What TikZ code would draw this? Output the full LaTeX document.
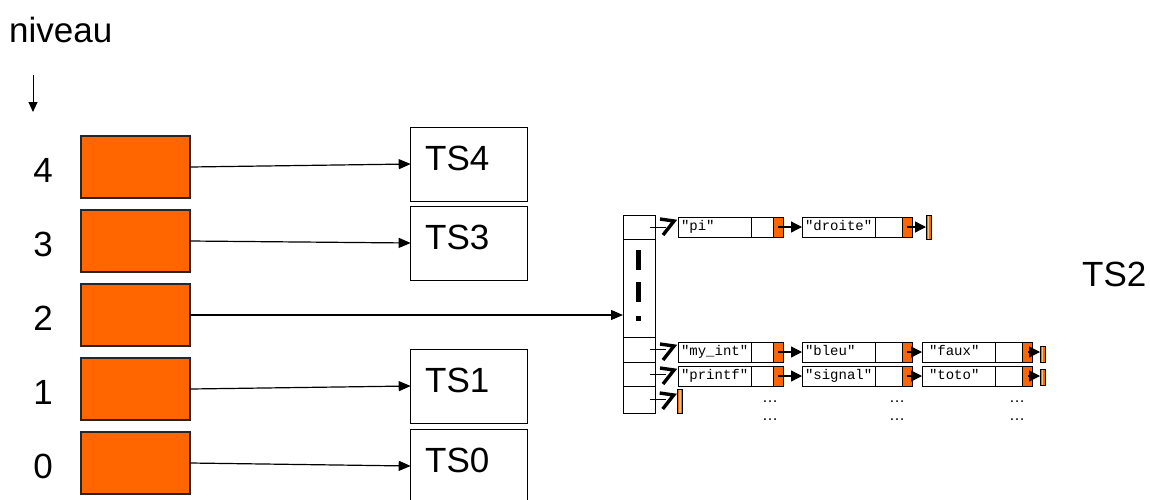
\documentclass[tikz,border=0pt]{standalone}
\usepackage{fontspec}
\setmainfont{Liberation Sans}
\setmonofont{Liberation Mono}
\usetikzlibrary{arrows.meta,calc}
\definecolor{orng}{HTML}{FF6600}
\definecolor{orlt}{HTML}{FFC080}
\newcommand\chevto[2]{%
  \draw[tail] ($(#1.center)+(11,0)$) -- ($(#1.center -| #2.west)+(-12,0)$);
  \draw[chev] ($(#2.west)+(-18,-8)$) -- ($(#2.west)+(-4,-6)$) -- ($(#2.west)+(-15,8)$);
}
\begin{document}
\begin{tikzpicture}[x=1pt,y=-1pt,
  big/.style={font=\fontsize{35}{42}\selectfont, inner sep=0pt},
  lvl/.style={draw=black!85, line width=1.1pt, fill=orng, minimum width=109pt, minimum height=62pt, inner sep=0pt, outer sep=0pt, anchor=north west},
  tsbox/.style={draw, line width=1pt, minimum width=117pt, minimum height=74pt, inner sep=0pt, outer sep=0pt, anchor=north west},
  arr/.style={line width=1.2pt, -{Triangle[length=12pt,width=10pt]}},
  cellb/.style={draw, line width=0.9pt, minimum width=32pt, inner sep=0pt, outer sep=0pt, anchor=north west},
  txtcell/.style={draw, line width=0.9pt, minimum height=20pt, text width=67pt, inner xsep=3pt, inner ysep=0pt, outer sep=0pt, align=left, font=\ttfamily\fontsize{14}{14}\selectfont, text height=9pt, text depth=3pt, anchor=north west},
  emptycell/.style={draw, line width=0.9pt, minimum height=20pt, minimum width=#1, inner sep=0pt, outer sep=0pt, anchor=north west},
  orcell/.style={draw, line width=0.9pt, fill=orng, minimum height=20pt, minimum width=10pt, inner sep=0pt, outer sep=0pt, anchor=north west},
  endbox/.style={draw, line width=0.8pt, fill=orng, minimum width=5pt, minimum height=#1, inner sep=0pt, outer sep=0pt, anchor=north west,
    path picture={\fill[orlt] ([xshift=-0.8pt]path picture bounding box.north) rectangle ([xshift=0.8pt]path picture bounding box.south);}},
  larr/.style={line width=1.3pt, -{Triangle[length=11pt,width=11pt]}},
  chev/.style={line width=3.4pt, miter limit=10},
  tail/.style={line width=1pt},
  dots/.style={font=\fontsize{16}{16}\selectfont, inner sep=0pt}
]
\useasboundingbox (0,0) rectangle (1150,499);

% title and level arrow
\node[big, anchor=base west] (niv) at (9,42) {niveau};
\coordinate (na) at (33,75);
\coordinate (nb) at (33,112);
\draw[line width=1pt, -{Triangle[length=10pt,width=9pt]}] (na) -- (nb);

% levels
\foreach \i/\y in {4/136,3/210,2/284,1/358,0/432} {
  \node[lvl] (lv\i) at (81,\y) {};
  \node[big] (n\i) at (43,{\y+34}) {\i};
}

% symbol tables
\node[tsbox] (ts4) at (410.7,127) {};
\node[tsbox] (ts3) at (410.7,206) {};
\node[tsbox] (ts1) at (410.7,349) {};
\node[tsbox] (ts0) at (410.7,429) {};
\node[big, anchor=west] (t4) at ($(ts4.north west)+(14.3,31)$) {TS4};
\node[big, anchor=west] (t3) at ($(ts3.north west)+(14.3,31.5)$) {TS3};
\node[big, anchor=west] (t1) at ($(ts1.north west)+(14.3,31.5)$) {TS1};
\node[big, anchor=west] (t0) at ($(ts0.north west)+(14.3,31.5)$) {TS0};
\node[big, anchor=base west] (ts2) at (1082,286) {TS2};

% hash table column
\node[cellb, minimum height=23.3pt] (c0) at (623,215.7) {};
\node[cellb, minimum height=98.5pt] (cd) at (c0.south west) {};
\node[cellb, minimum height=24.5pt] (c1) at (cd.south west) {};
\node[cellb, minimum height=24.5pt] (c2) at (c1.south west) {};
\node[cellb, minimum height=26.5pt] (c3) at (c2.south west) {};
\draw[line width=5pt] (638,250) -- (638,270);
\draw[line width=5pt] (638,282) -- (638,302);
\draw[line width=5pt] (638,316) -- (638,321);

% level connectors
\draw[arr] (lv4.east) -- (ts4.west);
\draw[arr] (lv3.east) -- (ts3.west);
\draw[arr] (lv2.east) -- (lv2.east -| cd.west);
\draw[arr] (lv1.east) -- (ts1.west);
\draw[arr] (lv0.east) -- (ts0.west);

% row 1
\node[txtcell] (pi) at (678,217) {"pi"};
\node[emptycell=22pt] (pi-e) at (pi.north east) {};
\node[orcell] (pi-o) at (pi-e.north east) {};
\node[txtcell] (dr) at (802,217) {"droite"};
\node[emptycell=27pt] (dr-e) at (dr.north east) {};
\node[orcell] (dr-o) at (dr-e.north east) {};
\node[endbox=24pt] (e1) at (926,215.7) {};
\draw[larr] (pi-o.center) -- (dr.west);
\draw[larr] (dr-o.center) -- (dr-o.center -| e1.west);

% row 2
\node[txtcell] (mi) at (678,342) {"my\_int"};
\node[emptycell=22pt] (mi-e) at (mi.north east) {};
\node[orcell] (mi-o) at (mi-e.north east) {};
\node[txtcell] (bl) at (802,342) {"bleu"};
\node[emptycell=27pt] (bl-e) at (bl.north east) {};
\node[orcell] (bl-o) at (bl-e.north east) {};
\node[txtcell] (fa) at (922,342) {\hspace*{4pt}"faux"};
\node[emptycell=27.7pt] (fa-e) at (fa.north east) {};
\node[orcell] (fa-o) at (fa-e.north east) {};
\node[endbox=16pt] (e2) at (1040,346) {};
\draw[larr] (mi-o.center) -- (bl.west);
\draw[larr] (bl-o.center) -- (fa.west);
\draw[larr] (fa-o.center) -- (fa-o.center -| e2.west);

% row 3
\node[txtcell] (pr) at (678,366) {"printf"};
\node[emptycell=22pt] (pr-e) at (pr.north east) {};
\node[orcell] (pr-o) at (pr-e.north east) {};
\node[txtcell] (si) at (802,366) {"signal"};
\node[emptycell=27pt] (si-e) at (si.north east) {};
\node[orcell] (si-o) at (si-e.north east) {};
\node[txtcell] (to) at (922,366) {\hspace*{4pt}"toto"};
\node[emptycell=27.7pt] (to-e) at (to.north east) {};
\node[orcell] (to-o) at (to-e.north east) {};
\node[endbox=16pt] (e3) at (1040,369) {};
\draw[larr] (pr-o.center) -- (si.west);
\draw[larr] (si-o.center) -- (to.west);
\draw[larr] (to-o.center) -- (to-o.center -| e3.west);

% row 4
\node[endbox=24pt] (e4) at (677.7,389) {};

% table to lists
\chevto{c0}{pi}
\chevto{c1}{mi}
\chevto{c2}{pr}
\chevto{c3}{e4}

% ellipses
\node[dots] (d1) at (770,401.7) {…};
\node[dots] (d2) at (770,420) {…};
\node[dots] (d3) at (897,401.7) {…};
\node[dots] (d4) at (897,420) {…};
\node[dots] (d5) at (1017,401.7) {…};
\node[dots] (d6) at (1017,420) {…};
\end{tikzpicture}
\end{document}
